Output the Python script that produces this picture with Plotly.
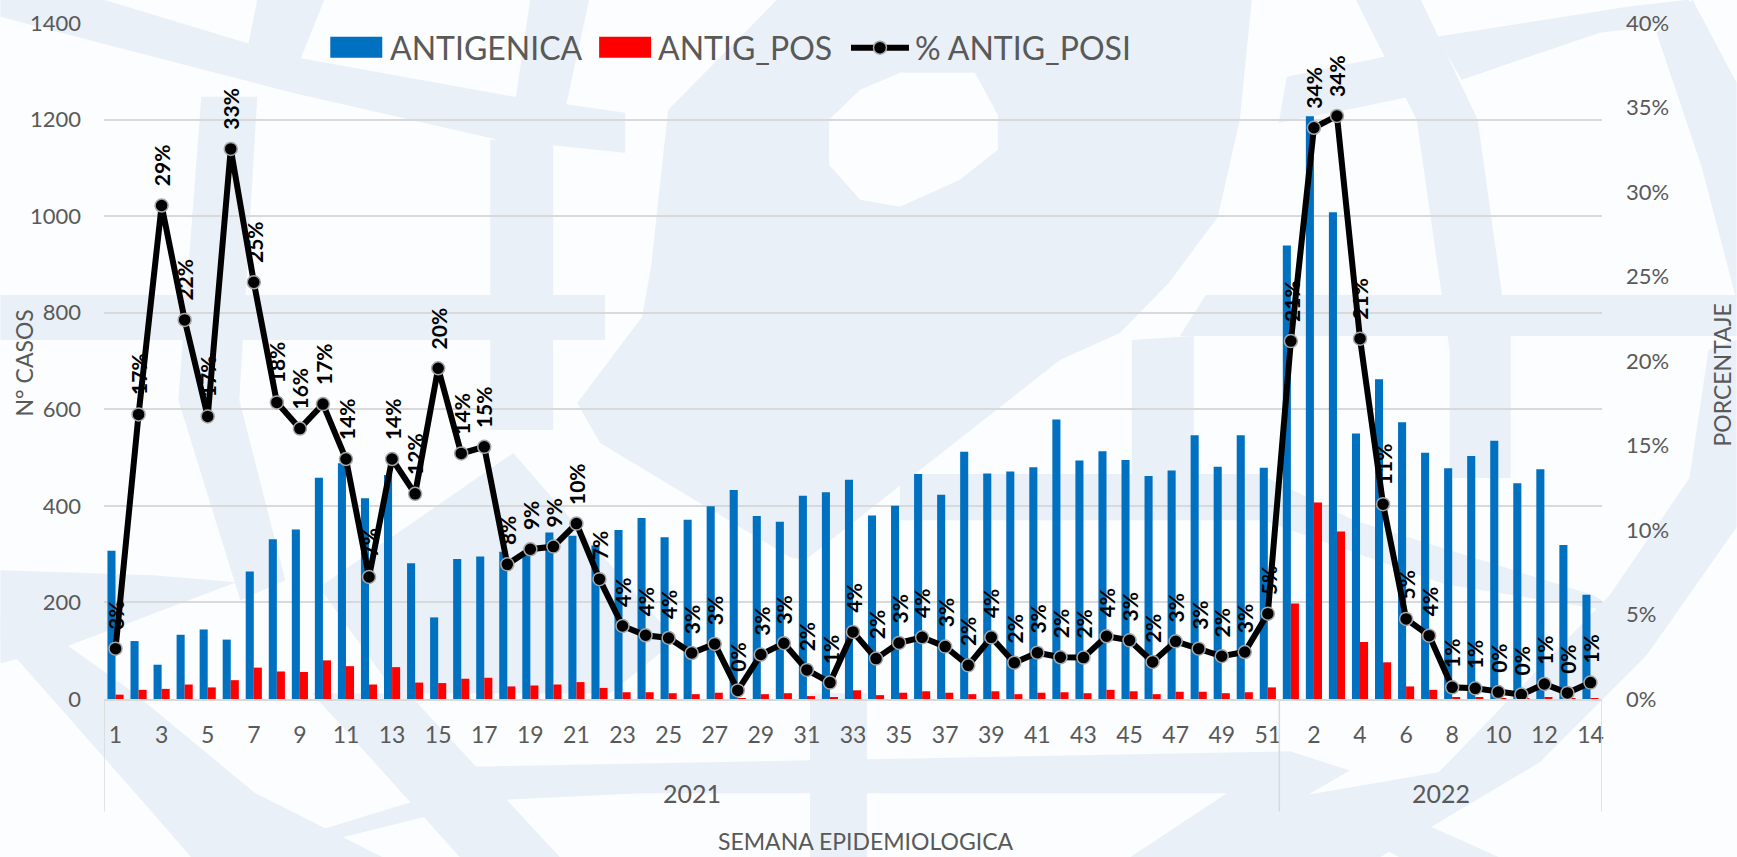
import plotly.graph_objects as go

W, H = 1737, 857
L, R, T, B = 103.6, 1602.4, 23.3, 698.7

years = ["2021", "2022"]
weeks_2021 = list(range(1, 52))
weeks_2022 = list(range(1, 15))
antigenica = [307,120,71,133,144,123,264,331,351,458,488,416,464,281,169,290,295,305,300,345,338,318,350,
              375,335,371,399,433,379,367,421,428,454,380,400,466,423,512,467,471,480,579,494,513,495,462,473,546,481,546,479,
              939,1207,1008,550,662,573,510,478,503,535,447,476,319,216]
antig_pos = [9,19,21,30,24,39,65,57,56,80,68,30,66,34,33,42,44,26,28,30,35,23,14,
             14,12,10,13,2,10,12,6,4,18,8,13,16,13,10,16,10,13,14,12,19,16,10,15,15,12,14,24,
             198,407,347,118,76,26,19,3,3,2,1,3,1,2]
pct_pos = [2.98,16.84,29.2,22.43,16.72,32.55,24.66,17.55,16.0,17.45,14.2,7.22,14.2,12.14,19.57,14.53,14.92,7.97,8.86,9.02,10.38,7.09,4.32,
           3.77,3.61,2.72,3.26,0.51,2.63,3.3,1.72,0.97,3.97,2.39,3.32,3.65,3.1,1.99,3.65,2.15,2.74,2.47,2.45,3.71,3.47,2.19,3.41,2.98,2.53,2.78,5.05,
           21.18,33.8,34.5,21.32,11.53,4.74,3.75,0.69,0.63,0.41,0.26,0.89,0.36,0.97]
pct_labels = [3,17,29,22,17,33,25,18,16,17,14,7,14,12,20,14,15,8,9,9,10,7,4,
              4,4,3,3,0,3,3,2,1,4,2,3,4,3,2,4,2,3,2,2,4,3,2,3,3,2,3,5,
              21,34,34,21,11,5,4,1,1,0,0,1,0,1]

week_labels = [str(w) for w in weeks_2021 + weeks_2022]
idx = list(range(len(week_labels)))
n21, n22 = len(weeks_2021), len(weeks_2022)

GREY = "#595959"
FONT = "Lato"
BLOB = "#eaf0f8"
PAPER = "#fbfdfe"

def px(x):
    return (x - L) / (R - L)
def py(y):
    return (B - y) / (B - T)
def poly(pts):
    return "M" + " L".join(f"{px(a):.4f},{py(b):.4f}" for a, b in pts) + " Z"

watermark = [
    # upper left
    [(103,0),(292,57),(514,97),(625,113),(625,153),(498,140),(292,93),(99,43),(0,17),(0,0)],
    [(257,0),(324,0),(300,60),(245,60)],
    [(530,0),(589,0),(565,110),(514,110)],
    [(201,97),(257,97),(239,400),(285,580),(240,600),(178,400)],
    [(490,140),(553,140),(553,430),(490,430)],
    [(0,295),(605,295),(605,340),(0,340)],
    # large central blob
    [(777,0),(1252,0),(1240,120),(1218,217),(1169,283),(1120,333),(1060,360),(971,430),(805,560),(790,557),(600,443),(577,403),(642,317),(651,267),(668,110)],
    # lower central peak
    [(319,587),(513,453),(676,640),(610,693),(395,693)],
    # right of centre
    [(1356,0),(1421,0),(1478,120),(1510,350),(1450,350),(1417,120)],
    [(1437,37),(1628,7),(1689,0),(1700,20),(1649,27),(1600,33),(1462,80)],
    [(1287,77),(1385,57),(1410,97),(1362,107),(1279,123)],
    [(1657,33),(1693,0),(1737,83),(1737,300),(1702,167)],
    [(1206,295),(1737,295),(1737,336),(1180,336)],
    [(1132,340),(1194,336),(1194,478),(1132,478)],
    [(1450,336),(1511,336),(1511,478),(1450,478)],
    [(900,474),(1260,474),(1354,520),(1594,595),(1620,612),(1445,584),(1263,520),(900,520)],
    # ring
    [(1709,350),(1737,340),(1737,527),(1647,655),(1540,762),(1380,857),(1200,857),(1274,800),(1439,772),(1610,595),(1690,478)],
    # lower left
    [(0,570),(153,575),(236,582),(64,647),(0,663)],
    [(0,617),(64,643),(134,693),(255,793),(383,857),(191,857),(159,820),(0,640)],
    [(312,693),(408,693),(560,857),(460,857)],
    [(440,767),(1290,751),(1300,793),(640,793),(491,800),(260,857),(230,857),(440,793)],
    [(810,693),(867,693),(867,857),(810,857)],
    [(1290,751),(1350,770),(1200,857),(1130,857)],
    [(1290,797),(1350,790),(1500,857),(1400,857)],
]
hole = [(900,73),(975,73),(998,115),(998,150),(960,180),(900,207),(860,200),(829,165),(829,120),(860,90)]

shapes = [dict(type="path", path=poly(p), xref="paper", yref="paper", fillcolor=BLOB,
               line=dict(width=0), layer="below") for p in watermark]
shapes.append(dict(type="path", path=poly(hole), xref="paper", yref="paper", fillcolor=PAPER,
                   line=dict(width=0), layer="below"))

# multi-level axis dividers
for xv in (-0.5, n21 - 0.5, n21 + n22 - 0.5):
    shapes.append(dict(type="line", xref="x", yref="paper", x0=xv, x1=xv, y0=py(699), y1=py(811),
                       line=dict(color="#d9d9d9", width=1.5)))

# legend
shapes += [
    dict(type="rect", xref="paper", yref="paper", x0=px(330), x1=px(382), y0=py(58), y1=py(37),
         fillcolor="#0070c0", line=dict(width=0)),
    dict(type="rect", xref="paper", yref="paper", x0=px(599), x1=px(651), y0=py(58), y1=py(37),
         fillcolor="#ff0000", line=dict(width=0)),
    dict(type="line", xref="paper", yref="paper", x0=px(851), x1=px(909), y0=py(48), y1=py(48),
         line=dict(color="black", width=6)),
    dict(type="circle", xref="paper", yref="paper", x0=px(873.5), x1=px(886.5), y0=py(54.5), y1=py(41.5),
         fillcolor="black", line=dict(color="#a6a6a6", width=1.5)),
]

annotations = [
    dict(x=i, y=v, xref="x", yref="y2", text=f"<b>{lab}%</b>", textangle=-90, showarrow=False,
         yanchor="bottom", xanchor="center", yshift=17,
         font=dict(family=FONT, size=21, color="black"))
    for i, v, lab in zip(idx, pct_pos, pct_labels)
]
annotations += [
    dict(x=(n21 - 1) / 2, y=py(793), xref="x", yref="paper", text=years[0], showarrow=False,
         yanchor="middle", font=dict(family=FONT, size=25, color=GREY)),
    dict(x=n21 + (n22 - 1) / 2, y=py(793), xref="x", yref="paper", text=years[1], showarrow=False,
         yanchor="middle", font=dict(family=FONT, size=25, color=GREY)),
]
for x0, text in ((388, "ANTIGENICA"), (656, "ANTIG_POS"), (913, "% ANTIG_POSI")):
    annotations.append(dict(x=px(x0), y=py(48), xref="paper", yref="paper", text=text, showarrow=False,
                            xanchor="left", yanchor="middle", font=dict(family=FONT, size=32, color=GREY)))
annotations += [
    dict(x=px(866), y=py(841), xref="paper", yref="paper", text="SEMANA EPIDEMIOLOGICA", showarrow=False,
         xanchor="center", yanchor="middle", font=dict(family=FONT, size=23, color=GREY)),
    dict(x=px(24), y=py(363), xref="paper", yref="paper", text="N° CASOS", showarrow=False, textangle=-90,
         xanchor="center", yanchor="middle", font=dict(family=FONT, size=23, color=GREY)),
    dict(x=px(1722), y=py(375), xref="paper", yref="paper", text="PORCENTAJE", showarrow=False, textangle=-90,
         xanchor="center", yanchor="middle", font=dict(family=FONT, size=23, color=GREY)),
]

fig = go.Figure()
fig.add_bar(x=idx, y=antigenica, name="ANTIGENICA", marker=dict(color="#0070c0", line=dict(width=0)))
fig.add_bar(x=idx, y=antig_pos, name="ANTIG_POS", marker=dict(color="#ff0000", line=dict(width=0)))
fig.add_scatter(x=idx, y=pct_pos, name="% ANTIG_POSI", yaxis="y2", mode="lines+markers",
                line=dict(color="black", width=6),
                marker=dict(color="black", size=13, line=dict(color="#a6a6a6", width=1.5)))

fig.update_layout(
    width=W, height=H, autosize=False,
    margin=dict(l=L, r=W - R, t=T, b=H - B, pad=0),
    paper_bgcolor=PAPER, plot_bgcolor="rgba(0,0,0,0)",
    barmode="group", bargap=0.3, bargroupgap=0,
    showlegend=False,
    font=dict(family=FONT, color=GREY, size=22),
    shapes=shapes, annotations=annotations,
    xaxis=dict(range=[-0.5, len(idx) - 0.5], tickmode="array", tickvals=idx[::2], ticktext=week_labels[::2],
               showgrid=False, zeroline=False, showline=True, linecolor="#d9d9d9", linewidth=1.5,
               ticks="", ticklabelstandoff=15, tickangle=0, tickfont=dict(size=23, color=GREY),
               automargin=False),
    yaxis=dict(range=[0, 1400], dtick=200, showgrid=True, gridcolor="#d9d9d9", gridwidth=1.5,
               zeroline=False, showline=False, ticks="", ticklabelstandoff=22,
               tickfont=dict(size=22, color=GREY), automargin=False),
    yaxis2=dict(range=[0, 40], dtick=5, ticksuffix="%", overlaying="y", side="right", showgrid=False,
                zeroline=False, showline=False, ticks="", ticklabelstandoff=23,
                tickfont=dict(size=22, color=GREY), automargin=False),
)

fig.write_html("out.html", config=dict(displayModeBar=False),
               post_script="document.body.style.margin='0';document.body.style.overflow='hidden';")
